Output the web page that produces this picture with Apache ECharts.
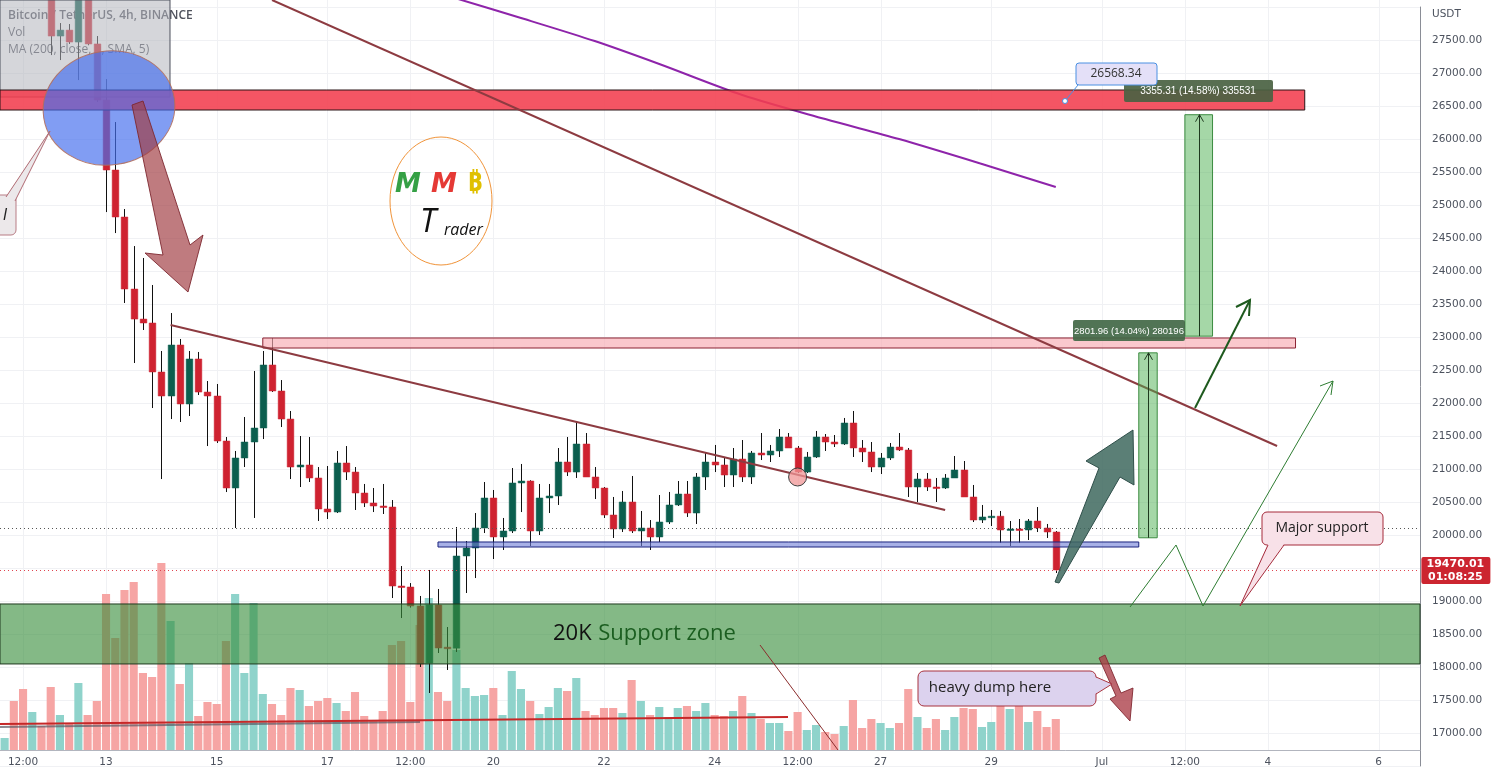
<!DOCTYPE html>
<html><head><meta charset="utf-8">
<script src="https://cdn.jsdelivr.net/npm/echarts@6/dist/echarts.min.js"></script>
<style>html,body{margin:0;padding:0;background:#fff}#c{width:1492px;height:778px}</style>
</head><body><div id="c"></div>
<script>
// ---- categories: 4h slots starting 11 Jun 04:00 ----
const START = Date.UTC(2022, 5, 11, 4);
const N_CATS = 154;
const categories = [];
for (let k = 0; k < N_CATS; k++) {
  const d = new Date(START + k * 4 * 3600e3);
  categories.push((d.getUTCMonth() + 1) + '/' + d.getUTCDate() + ' ' + String(d.getUTCHours()).padStart(2, '0') + ':00');
}
// tick labels at category index
const tickLabels = [[2,'12:00'],[11,'13'],[23,'15'],[35,'17'],[44,'12:00'],[53,'20'],[65,'22'],[77,'24'],[86,'12:00'],[95,'27'],[107,'29'],[119,'Jul'],[128,'12:00'],[137,'4'],[149,'6']];
// price axis
const priceMin = 16500, priceMax = 28000, priceStep = 500;
// candles [open, high, low, close], from category 0
const candles = [
[28850,29050,28700,28980],[28980,29100,28600,28700],[28700,28800,28350,28420],[28420,28650,28300,28560],[28560,28600,28250,28300],
[28300,28450,27272,27560],[27560,27757,27196,27650],[27650,27742,27440,27469],[27469,28250,26893,28180],[28180,28250,27420,27440],
[27440,27560,26560,26590],[26590,26908,24893,25530],[25530,26257,24575,24818],[24818,24939,23515,23727],[23727,24378,22606,23272],
[23272,24197,23106,23212],[23212,23788,21924,22470],[22470,22788,20848,22106],[22106,23363,21757,22879],[22879,22970,21712,21985],
[21985,22788,21803,22667],[22667,22773,22121,22166],[22166,22333,21348,22106],[22106,22288,21394,21424],[21424,21485,20651,20712],
[20712,21273,20106,21167],[21167,21788,21030,21409],[21409,22485,20258,21621],[21621,22788,21454,22576],[22576,22985,22167,22182],
[22182,22348,21636,21757],[21757,21879,20848,21030],[21030,21500,20727,21061],[21061,21485,20803,20864],[20864,21030,20212,20394],
[20394,21045,20242,20348],[20348,21273,20333,21091],[21091,21348,20833,20954],[20954,21030,20379,20636],[20636,20773,20424,20485],
[20485,20712,20348,20439],[20439,20773,20318,20424],[20424,20530,19045,19227],[19227,19530,18742,19212],[19212,19272,18900,18924],
[18924,19076,18000,18046],[18061,19470,17606,18939],[18939,19182,18212,18288],[18300,18606,17955,18285],[18285,20121,18227,19682],
[19682,19909,19121,19803],[19803,20333,19348,20106],[20106,20803,20030,20561],[20561,20682,19636,19970],[19970,20258,19773,20061],
[20061,21015,20030,20788],[20788,21076,20348,20818],[20818,20830,19833,20061],[20061,20773,20000,20561],[20561,20773,20333,20591],
[20591,21318,20455,21106],[21106,21485,20894,20954],[20954,21712,20864,21379],[21379,21545,20879,20879],[20879,21030,20545,20712],
[20712,20727,20258,20303],[20303,20576,19955,20091],[20091,20667,20045,20500],[20500,20894,20030,20061],[20061,20364,19833,20106],
[20106,20227,19773,19970],[19970,20606,19894,20197],[20197,20652,20167,20455],[20455,20818,20440,20621],[20621,20818,20273,20333],
[20333,20939,20167,20879],[20879,21242,20682,21106],[21106,21364,20954,21061],[21061,21167,20727,20909],[20909,21318,20727,21151],
[21151,21439,20803,20879],[20879,21273,20773,21242],[21242,21545,21136,21212],[21212,21364,21106,21273],[21273,21606,21182,21485],
[21485,21545,21318,21318],[21318,21348,20939,20954],[20954,21258,20939,21182],[21182,21576,21167,21485],[21485,21530,21273,21409],
[21409,21515,21333,21379],[21379,21773,21364,21697],[21697,21879,21182,21318],[21318,21439,21106,21258],[21258,21409,20954,21030],
[21030,21242,20924,21167],[21167,21394,21136,21333],[21333,21545,21273,21288],[21288,21318,20576,20727],[20727,20939,20500,20848],
[20848,20939,20667,20727],[20727,20864,20500,20712],[20712,20924,20697,20864],[20864,21197,20864,20985],[20985,21121,20576,20576],
[20576,20758,20197,20227],[20227,20455,20182,20273],[20273,20379,20136,20285],[20285,20364,19879,20076],[20076,20212,19833,20091],
[20091,20242,19879,20076],[20076,20242,19924,20212],[20212,20424,20045,20106],[20106,20167,19955,20045],[20045,20060,19424,19470]
];
// volume (relative units), from category 0
const volumes = [12,49,61,38,24,63,35,27,67,35,49,156,112,160,168,77,73,187,129,66,87,34,48,46,109,156,77,147,56,46,35,62,60,44,49,52,47,39,58,34,29,39,105,109,48,125,152,58,49,100,62,54,55,62,35,79,61,49,36,43,62,59,72,39,35,42,42,37,70,49,35,43,33,42,44,39,47,35,34,39,54,37,31,27,27,19,38,20,25,18,16,24,50,22,31,27,22,27,61,33,22,31,20,33,42,41,23,28,45,41,49,28,39,23,31];
// MA(200) line sample points [category index, price]
const maPoints = [[49,28129],[56,27833],[64,27484],[71,27136],[80,26666],[89,26302],[97,25999],[106,25621],[114,25272]];
const lastPrice = 19470.01, prevLine = 20106;

const UP = '#0b5e4e', DOWN = '#cf2230';
const chart = echarts.init(document.getElementById('c'), null, {renderer: 'canvas'});
const FONT = 'DejaVu Sans';
const tickMap = {}; tickLabels.forEach(t => tickMap[t[0]] = t[1]);

const option = {
  animation: false,
  backgroundColor: '#ffffff',
  grid: [
    {left: 0, right: 72, top: 7, bottom: 12},
    {left: 0, right: 72, top: 550, bottom: 28}
  ],
  xAxis: [
    {type: 'category', gridIndex: 0, data: categories, boundaryGap: true, axisLine: {show: false}, axisTick: {show: false}, axisLabel: {show: false}, splitLine: {show: false}},
    {type: 'category', gridIndex: 1, data: categories, boundaryGap: true,
     axisLine: {show: true, lineStyle: {color: '#b2b5be'}}, axisTick: {show: false},
     axisLabel: {interval: (i) => tickMap[i] !== undefined, formatter: (v, i) => tickMap[i] || '', color: '#4c525e', fontSize: 10.5, fontFamily: FONT, margin: 7},
     splitLine: {show: false}}
  ],
  yAxis: [
    {type: 'value', gridIndex: 0, position: 'right', min: priceMin, max: priceMax, interval: priceStep,
     axisLine: {show: true, lineStyle: {color: '#8a8d96'}}, axisTick: {show: false},
     axisLabel: {margin: 12, color: '#4c525e', fontSize: 10.5, fontFamily: FONT,
       formatter: v => (v >= 17000 && v <= 27500) ? v.toFixed(2) : ''},
     splitLine: {show: true, lineStyle: {color: '#f0f1f4'}}},
    {type: 'value', gridIndex: 1, min: 0, max: 200, show: false}
  ],
  series: [
    {type: 'bar', name: 'Vol', xAxisIndex: 1, yAxisIndex: 1, barWidth: '88%', z: 1,
     data: volumes.map((v, k) => ({value: v, itemStyle: {color: candles[k][3] >= candles[k][0] ? '#8fd3cb' : '#f6a5a4'}}))},
    {type: 'custom', name: 'BTCUSDT', xAxisIndex: 0, yAxisIndex: 0, z: 3, clip: false,
     data: candles.map((c, k) => [k, c[0], c[1], c[2], c[3]]),
     encode: {x: 0, y: [1, 2, 3, 4]},
     renderItem: function (params, api) {
       const k = api.value(0), o = api.value(1), h = api.value(2), l = api.value(3), c = api.value(4);
       const pO = api.coord([k, o]), pC = api.coord([k, c]), pH = api.coord([k, h]), pL = api.coord([k, l]);
       const w = api.size([1, 0])[0] * 0.72;
       const col = c >= o ? UP : DOWN;
       const xc = Math.round(pO[0]) + 0.5;
       const top = Math.min(pO[1], pC[1]), hh = Math.max(1.5, Math.abs(pO[1] - pC[1]));
       return {type: 'group', children: [
         {type: 'line', shape: {x1: xc, y1: pH[1], x2: xc, y2: pL[1]}, style: {stroke: '#111', lineWidth: 1}},
         {type: 'rect', shape: {x: xc - w / 2, y: top, width: w, height: hh}, style: {fill: col, stroke: col, lineWidth: 0.5}}
       ]};
     }},
    {type: 'line', name: 'MA', xAxisIndex: 0, yAxisIndex: 0, z: 4, data: maPoints, showSymbol: false, smooth: 0.3, clip: false,
     lineStyle: {color: '#8e24aa', width: 2}}
  ]
};
chart.setOption(option);

function P(k, p) { return chart.convertToPixel({xAxisIndex: 0, yAxisIndex: 0}, [k, p]); }
function X(k) { return P(k, 20000)[0]; }
function Y(p) { return P(0, p)[1]; }
const g = [];
const L = (x1, y1, x2, y2, stroke, w, z, dash) => ({type: 'line', z, silent: true, shape: {x1, y1, x2, y2}, style: {stroke, lineWidth: w, lineDash: dash || null}});
const RC = (x, y, w, h, fill, stroke, z, r) => ({type: 'rect', z, silent: true, shape: {x, y, width: w, height: h, r: r || 0}, style: {fill, stroke: stroke || null, lineWidth: stroke ? 1 : 0}});
const TX = (x, y, text, font, fill, z, align, va) => ({type: 'text', z, silent: true, x, y, style: {text, font, fill, align: align || 'left', verticalAlign: va || 'middle'}});
const PG = (pts, fill, stroke, z, lw) => ({type: 'polygon', z, silent: true, shape: {points: pts}, style: {fill, stroke: stroke || null, lineWidth: lw || 1}});
const PL = (pts, stroke, w, z) => ({type: 'polyline', z, silent: true, shape: {points: pts}, style: {stroke, lineWidth: w, fill: null}});

const plotR = X(N_CATS - 1) + (X(1) - X(0)) / 2;
// vertical gridlines
tickLabels.forEach(t => g.push(L(Math.round(X(t[0])) + 0.5, 0, Math.round(X(t[0])) + 0.5, 750, '#f0f1f4', 1, 0)));
// legend texts
g.push(TX(8, 16, 'Bitcoin / TetherUS, 4h, BINANCE', '600 12px "Open Sans"', '#50535e', 1));
g.push(TX(8, 33, 'Vol', '12px "Open Sans"', '#50535e', 1));
g.push(TX(8, 50, 'MA (200, close, 0, SMA, 5)', '12px "Open Sans"', '#50535e', 1));
// gray box
g.push(RC(0, 0, 170, 97, 'rgba(178,180,188,0.55)', '#4d505c', 10));
// red resistance zone
g.push(RC(0, Y(26742), X(141), Y(26439) - Y(26742), 'rgba(242,62,78,0.88)', '#2b1416', 11));
// pink zone
g.push(RC(X(28), Y(22985), X(140) - X(28), Y(22833) - Y(22985), 'rgba(247,170,178,0.65)', '#8b2232', 11));
// blue zone
g.push(RC(X(47), Y(19894), X(123) - X(47), Y(19818) - Y(19894), 'rgba(110,125,215,0.6)', '#1a237e', 11));
// green support zone
g.push(RC(0, Y(18955), plotR, Y(18046) - Y(18955), 'rgba(56,142,60,0.62)', '#1f3a1f', 12));
g.push({type: 'text', z: 13, silent: true, x: 553, y: Y(18500), style: {rich: {a: {font: '22px "Open Sans"', fill: '#111'}, b: {font: '22px "Open Sans"', fill: '#1b5e20'}}, text: '{a|20K}  {b|Support zone}', verticalAlign: 'middle'}});
// dotted lines
g.push(L(0, Math.round(Y(prevLine)) + 0.5, plotR, Math.round(Y(prevLine)) + 0.5, '#555', 1, 5, [1, 3]));
g.push(L(0, Math.round(Y(lastPrice)) + 0.5, plotR, Math.round(Y(lastPrice)) + 0.5, '#e0434f', 1, 5, [1, 3]));
// trend lines
let a = P(29.4, 28106), b = P(138, 21348);
g.push(L(a[0], a[1], b[0], b[1], '#8d3b41', 2, 13));
a = P(18.2, 23182); b = P(102, 20379);
g.push(L(a[0], a[1], b[0], b[1], '#8d3b41', 2, 13));
// circle
a = P(86, 20879);
g.push({type: 'circle', z: 14, silent: true, shape: {cx: a[0], cy: a[1], r: 9}, style: {fill: 'rgba(240,150,150,0.75)', stroke: '#3d3d3d', lineWidth: 1}});
// blue ellipse
g.push({type: 'ellipse', z: 14, silent: true, x: 109, y: 108, rotation: 0.15, shape: {cx: 0, cy: 0, rx: 66, ry: 57}, style: {fill: 'rgba(70,110,238,0.68)', stroke: 'rgba(175,110,95,0.9)', lineWidth: 1}});
// brown arrow
g.push(PG([[132,105],[163,255],[145,253],[188,292],[203,235],[190,245],[143,101]], 'rgba(160,60,66,0.68)', 'rgba(125,40,48,0.9)', 15));
// left callout
g.push(RC(-10, 195, 26, 40, '#ece8ea', '#b87d85', 15, 5));
g.push(PG([[6,197],[50,131],[15,201]], '#ece8ea', null, 16));
g.push(PL([[6,197],[50,131],[15,201]], '#b06a72', 1, 16));
g.push(TX(3, 216, 'l', 'italic 15px "DejaVu Sans"', '#222', 16));
// logo
g.push({type: 'ellipse', z: 15, silent: true, shape: {cx: 441, cy: 201, rx: 51, ry: 64}, style: {fill: null, stroke: '#f0943a', lineWidth: 1}});
g.push(TX(408, 185, 'M', 'italic bold 26px "DejaVu Sans"', '#35a045', 16, 'center'));
g.push(TX(444, 185, 'M', 'italic bold 26px "DejaVu Sans"', '#e53935', 16, 'center'));
g.push(TX(475, 184, '\u20BF', 'bold 26px "Noto Sans", "DejaVu Sans"', '#e0c000', 16, 'center'));
g.push(TX(428, 223, 'T', 'italic 32px "Open Sans"', '#111', 16, 'center'));
g.push(TX(444, 230, 'rader', 'italic 16px "Open Sans"', '#111', 16, 'left'));
// measure rectangles
a = P(123, 22760); b = P(125, 19958);
g.push(RC(a[0], a[1], b[0] - a[0], b[1] - a[1], 'rgba(76,175,80,0.5)', '#3c8c40', 16));
const ax = Math.round((a[0] + b[0]) / 2) + 0.5;
g.push(L(ax, b[1], ax, a[1], '#1f3a1f', 1, 17));
g.push(PL([[ax - 4, a[1] + 7], [ax, a[1]], [ax + 4, a[1] + 7]], '#1f3a1f', 1, 17));
g.push(RC(1073, 320, 112, 21, 'rgba(66,104,70,0.92)', null, 18, 2));
g.push(TX(1129, 331, '2801.96 (14.04%) 280196', '9.5px "Liberation Sans"', '#fff', 19, 'center'));
a = P(128, 26368); b = P(131.2, 23013);
g.push(RC(a[0], a[1], b[0] - a[0], b[1] - a[1], 'rgba(76,175,80,0.5)', '#3c8c40', 16));
const bx = Math.round((a[0] + b[0]) / 2) + 0.5;
g.push(L(bx, b[1], bx, a[1], '#1f3a1f', 1, 17));
g.push(PL([[bx - 4, a[1] + 7], [bx, a[1]], [bx + 4, a[1] + 7]], '#1f3a1f', 1, 17));
g.push(RC(1124, 80, 149, 22, 'rgba(74,98,66,0.92)', null, 18, 2));
g.push(TX(1198, 91, '3355.31 (14.58%) 335531', '10px "Liberation Sans"', '#fff', 19, 'center'));
// 26568.34 label
g.push(L(1065, 101, 1078, 85, '#4a90e2', 1, 18));
g.push({type: 'circle', z: 19, silent: true, shape: {cx: 1065, cy: 101, r: 2.5}, style: {fill: '#fff', stroke: '#4a90e2', lineWidth: 1}});
g.push(RC(1076, 63, 81, 22, '#e4e0f8', '#4a90e2', 18, 3));
g.push(TX(1116, 74, '26568.34', '12px "Open Sans"', '#333', 19, 'center'));
// slate arrow
g.push(PG([[1055,582],[1099,468],[1086,461],[1133,430],[1134,485],[1120,477],[1059,583]], 'rgba(62,104,94,0.85)', '#2f4f4a', 17));
// thin green arrow
g.push(L(1195, 408, 1250, 300, '#1e5a1e', 2, 17));
g.push(PL([[1236,307],[1250,300],[1249,316]], '#1e5a1e', 2, 17));
// zigzag projection
g.push(PL([[1130,607],[1176,545],[1203,606],[1333,381]], '#2e7d32', 1, 17));
g.push(PL([[1320,386],[1333,381],[1331,395]], '#2e7d32', 1, 17));
// Major support callout
g.push(RC(1262, 512, 121, 33, '#f8e1e8', '#a52a3a', 18, 5));
g.push(PG([[1268,544],[1240,606],[1284,544]], '#f8e1e8', null, 19));
g.push(PL([[1268,545],[1240,606],[1284,545]], '#a52a3a', 1, 19));
g.push(TX(1322, 528, 'Major support', '14px "Open Sans"', '#222', 20, 'center'));
// heavy dump callout
g.push(RC(918, 671, 178, 35, '#dcd2ee', '#a8323e', 18, 6));
g.push(PG([[1095,677],[1112,684],[1095,694]], '#dcd2ee', null, 19));
g.push(PL([[1096,677],[1112,684],[1096,694]], '#a8323e', 1, 19));
g.push(TX(990, 688, 'heavy dump here', '15px "Open Sans"', '#222', 20, 'center'));
// small brown arrow
g.push(PG([[1099,658],[1116,696],[1110,699],[1130,721],[1133,688],[1121,693],[1105,655]], 'rgba(170,60,70,0.78)', 'rgba(130,40,50,0.9)', 17));
// thin line from zone to volume
g.push(L(760, 645, 838, 750, '#8b2c2c', 1, 17));
// volume MA lines
g.push(L(0, 727, 420, 722, 'rgba(90,90,100,0.7)', 2, 6));
g.push(L(0, 724, 788, 717, '#c62828', 2, 7));
// price label
const py = Y(lastPrice);
g.push(RC(X(N_CATS - 1) + 6, py - 13, 69, 27, '#cc2530', null, 30, 2));
g.push(TX(X(N_CATS - 1) + 40, py - 6, '19470.01', 'bold 11px "DejaVu Sans"', '#fff', 31, 'center'));
g.push(TX(X(N_CATS - 1) + 40, py + 7, '01:08:25', 'bold 11px "DejaVu Sans"', '#fff', 31, 'center'));
g.push(TX(1432, 14, 'USDT', '10.5px "DejaVu Sans"', '#4c525e', 31));
chart.setOption({graphic: {elements: g}});
</script>
</body></html>
